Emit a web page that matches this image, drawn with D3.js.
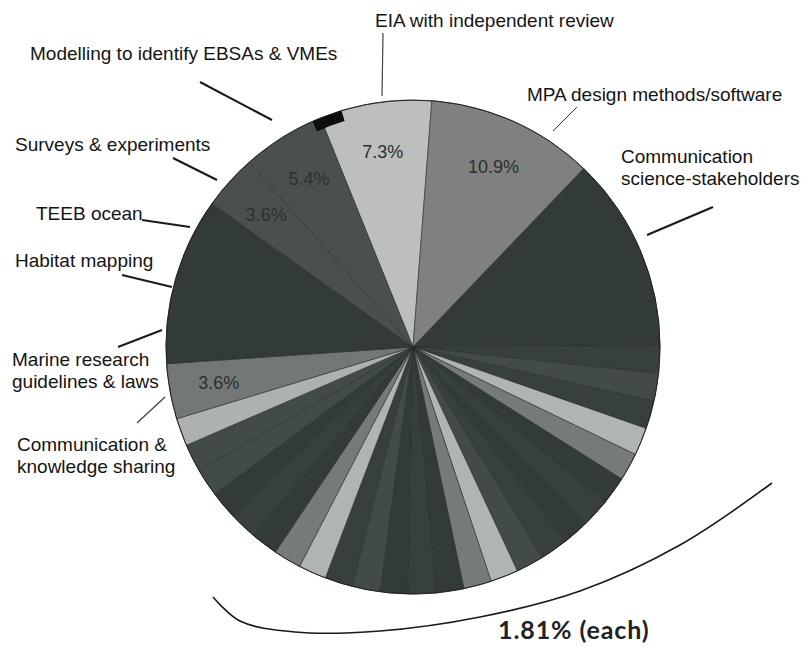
<!DOCTYPE html>
<html><head><meta charset="utf-8">
<script src="https://cdn.jsdelivr.net/npm/d3@7/dist/d3.min.js"></script>
<style>html,body{margin:0;padding:0;background:#fff;} svg{display:block;}</style>
</head><body>
<svg id="chart" width="806" height="647"></svg>
<script>
// ---- data (percent of respondents) ----
const categories = [
  "EIA with independent review", "MPA design methods/software", "Communication science-stakeholders",
  "Other 1","Other 2","Other 3","Other 4","Other 5","Other 6","Other 7","Other 8",
  "Other 9","Other 10","Other 11","Other 12","Other 13","Other 14","Other 15","Other 16",
  "Other 17","Other 18","Other 19","Other 20","Other 21","Other 22","Other 23","Other 24",
  "Communication & knowledge sharing", "Marine research guidelines & laws",
  "Habitat mapping", "TEEB ocean", "Surveys & experiments"
];
const values = [
  7.3, 10.9, 12.7,
  1.81, 1.81, 1.81, 1.81, 1.81, 1.81, 1.81, 1.81,
  1.81, 1.81, 1.81, 1.81, 1.81, 1.81, 1.81, 1.81,
  1.81, 1.81, 1.81, 1.81, 1.81, 1.81, 1.81, 1.81,
  1.81, 3.6, 10.9, 3.6, 5.4
];
const labelledSlices = ["EIA with independent review", "MPA design methods/software",
  "Surveys & experiments", "TEEB ocean", "Marine research guidelines & laws"];
const braceLabel = "1.81% (each)";
const markerCategory = "Modelling to identify EBSAs & VMEs";

// ---- styles (kept apart from the data) ----
const D1 = "#323a3a", D2 = "#373f3f", D3 = "#434a4a", L = "#b1b5b2", M = "#767b79";
const sliceColors = [
  "#bcbfbb", "#7e817e", D1,
  D2, D3, D2, L, M, D1, D2, D1,
  D2, D3, L, M, D1, D2, D1, D3,
  D2, L, M, D1, D2, D1, D3, D3,
  "#aeb2af", "#737877", D1, "#4a5050", "#4a5050"
];

const svg = d3.select("#chart");
const cx = 413, cy = 347, R = 247;
const startDeg = -22;
const pie = d3.pie().sort(null).value(d => d.value)
  .startAngle(startDeg * Math.PI / 180).endAngle(startDeg * Math.PI / 180 + 2 * Math.PI);
const data = categories.map((c, i) => ({name: c, value: values[i], color: sliceColors[i]}));
const arcs = pie(data);
const arc = d3.arc().innerRadius(0).outerRadius(R);
const labelArc = d3.arc().innerRadius(R * 0.8).outerRadius(R * 0.8);

const g = svg.append("g").attr("transform", `translate(${cx},${cy})`);
g.selectAll("path.slice").data(arcs).join("path")
  .attr("class", "slice")
  .attr("d", arc)
  .attr("fill", d => d.data.color)
  .attr("stroke", "#262c2c").attr("stroke-width", 0.6).attr("stroke-linejoin", "round");

// black marker for the modelling category, sitting on the rim at the start of the EIA slice
const eia = arcs[0];
g.append("path")
  .attr("d", d3.arc().innerRadius(R - 11).outerRadius(R)
    .startAngle(eia.startAngle - 0.035).endAngle(eia.startAngle + 0.09)())
  .attr("fill", "#0d0d0d");

g.append("circle").attr("r", R).attr("fill", "none").attr("stroke", "#222").attr("stroke-width", 1);

const fmt = d3.format(".1f");
g.selectAll("text.pct").data(arcs.filter(d => labelledSlices.includes(d.data.name))).join("text")
  .attr("class", "pct")
  .attr("transform", d => `translate(${labelArc.centroid(d)})`)
  .attr("text-anchor", "middle").attr("dy", "0.35em")
  .attr("font-family", "Liberation Sans, Arial, sans-serif").attr("font-size", 18)
  .attr("fill", "#2a3030")
  .text(d => fmt(d.data.value) + "%");

// ---- annotations (category names with hand-drawn leader lines) ----
const annotations = [
  {lines: ["EIA with independent review"], x: 375, y: 27, from: [383, 33], to: [382, 96], w: 1.2},
  {lines: [markerCategory], x: 30, y: 60, from: [200, 82], to: [272, 120], w: 2},
  {lines: ["MPA design methods/software"], x: 527, y: 101, from: [577, 107], to: [553, 131], w: 1},
  {lines: ["Communication", "science-stakeholders"], x: 621, y: 163, from: [713, 207], to: [647, 235], w: 2.2},
  {lines: ["Surveys & experiments"], x: 15, y: 151, from: [173, 158], to: [217, 180], w: 2},
  {lines: ["TEEB ocean"], x: 36, y: 220, from: [142, 220], to: [190, 227], w: 2},
  {lines: ["Habitat mapping"], x: 15, y: 267, from: [122, 275], to: [172, 287], w: 2},
  {lines: ["Marine research", "guidelines & laws"], x: 12, y: 366, from: [118, 347], to: [162, 330], w: 2},
  {lines: ["Communication &", "knowledge sharing"], x: 17, y: 451, from: [137, 423], to: [165, 397], w: 1.3}
];
const lineGap = 21.5;
const ann = svg.append("g");
annotations.forEach(a => {
  a.lines.forEach((l, i) => {
    ann.append("text").attr("x", a.x).attr("y", a.y + i * lineGap)
      .attr("font-family", "Liberation Sans, Arial, sans-serif").attr("font-size", 19)
      .attr("fill", "#141414").text(l);
  });
  ann.append("line").attr("x1", a.from[0]).attr("y1", a.from[1]).attr("x2", a.to[0]).attr("y2", a.to[1])
    .attr("stroke", a.w < 1.5 ? "#444" : "#1a1a1a").attr("stroke-width", a.w);
});

// brace curve under the 1.81% slices
const bracePts = [[213, 597], [240, 621], [295, 632], [380, 631], [480, 617], [580, 591], [680, 545], [772, 483]];
svg.append("path").attr("d", d3.line().curve(d3.curveCatmullRom)(bracePts))
  .attr("fill", "none").attr("stroke", "#1a1a1a").attr("stroke-width", 1.6);
svg.append("text").attr("x", 498).attr("y", 639)
  .attr("font-family", "Lato, Open Sans, sans-serif").attr("font-weight", "bold").attr("font-size", 25)
  .attr("letter-spacing", 0.9)
  .attr("fill", "#222").text(braceLabel);
</script>
</body></html>
